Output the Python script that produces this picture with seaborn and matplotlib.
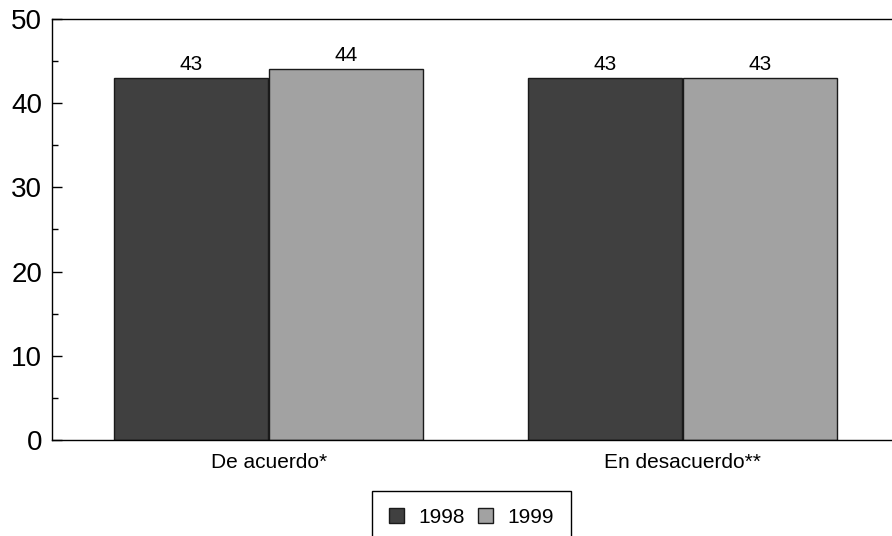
import matplotlib
matplotlib.use("Agg")
import matplotlib.pyplot as plt
import pandas as pd
import seaborn as sns
from matplotlib.ticker import MultipleLocator

# data
categories = ["De acuerdo*", "En desacuerdo**"]
years = ["1998", "1999"]
values_1998 = [43, 43]
values_1999 = [44, 43]
colors = ["#404040", "#a2a2a2"]

df = pd.DataFrame({
    "categoria": categories * 2,
    "anio": [years[0]] * 2 + [years[1]] * 2,
    "valor": values_1998 + values_1999,
})

sns.set_theme(style="white")
plt.rcParams["font.family"] = ["Liberation Sans", "DejaVu Sans"]
plt.rcParams["text.color"] = "black"
plt.rcParams["xtick.color"] = "black"
plt.rcParams["ytick.color"] = "black"
plt.rcParams["axes.labelcolor"] = "black"

fig = plt.figure(figsize=(8.92, 5.36), dpi=100)
ax = fig.add_axes([0.058, 0.179, 0.942, 0.786])

sns.barplot(data=df, x="categoria", y="valor", hue="anio", order=categories,
            hue_order=years, palette=colors, width=0.75, gap=0.01,
            edgecolor="#1a1a1a", linewidth=1, saturation=1, ax=ax)

for cont in ax.containers:
    ax.bar_label(cont, fmt="%.0f", padding=3, fontsize=15, color="black")

ax.set_ylim(0, 50)
ax.set_xlim(-0.524, 1.506)
ax.yaxis.set_major_locator(MultipleLocator(10))
ax.yaxis.set_minor_locator(MultipleLocator(5))
ax.tick_params(axis="y", which="major", direction="in", length=7, width=1,
               color="black", labelcolor="black", labelsize=20, pad=7, left=True)
ax.tick_params(axis="y", which="minor", direction="in", length=4, width=1,
               color="black", left=True)
ax.tick_params(axis="x", length=0, labelsize=15, pad=9, labelcolor="black")
ax.set_xlabel("")
ax.set_ylabel("")

for side in ["left", "bottom", "top"]:
    ax.spines[side].set_visible(True)
    ax.spines[side].set_color("black")
    ax.spines[side].set_linewidth(1)
ax.spines["right"].set_visible(False)

handles, labels = ax.get_legend_handles_labels()
ax.get_legend().remove()
leg = fig.legend(handles, labels, loc="upper center", bbox_to_anchor=(0.5285, 1 - 491 / 536),
                 ncol=2, fontsize=15, frameon=True, fancybox=False, framealpha=1,
                 edgecolor="black", borderpad=0.8, borderaxespad=0,
                 handlelength=0.7, handleheight=0.7, handletextpad=0.7,
                 columnspacing=0.65)
leg.get_frame().set_linewidth(1)

fig.savefig("out.png", dpi=100)
